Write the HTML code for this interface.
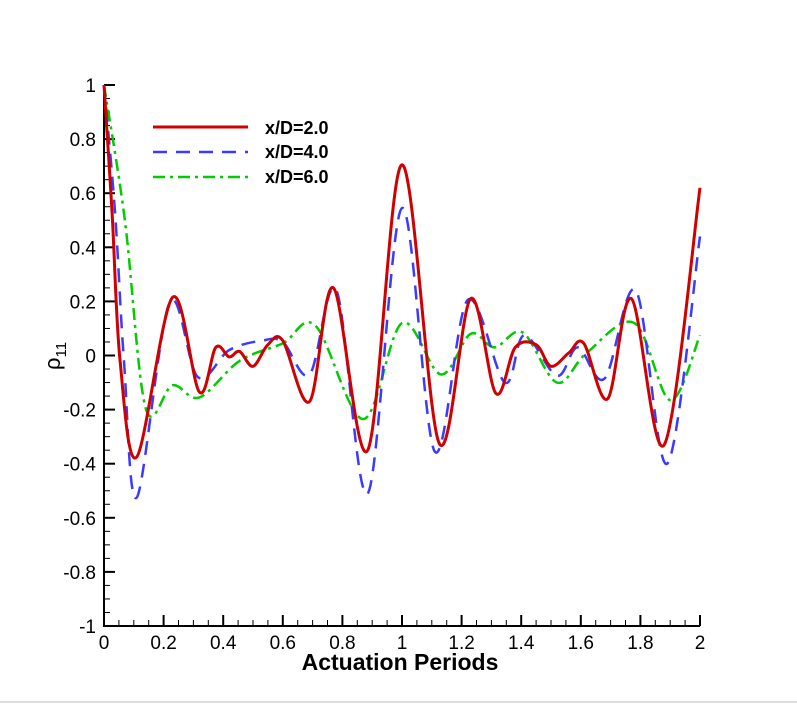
<!DOCTYPE html>
<html><head><meta charset="utf-8"><style>
body{margin:0;background:#fff}
svg{display:block;font-family:"Liberation Sans",sans-serif}
</style></head><body>
<svg id="chart" width="797" height="704">
<rect x="0" y="0" width="797" height="704" fill="#fff"/>
<line x1="0" y1="702" x2="797" y2="702" stroke="#bbb" stroke-width="1"/>
<g id="axes"></g>
<g id="series"></g>
<text x="400" y="670" text-anchor="middle" font-size="23" font-weight="bold">Actuation Periods</text>
<text transform="translate(60,356) rotate(-90)" text-anchor="middle" font-size="22">ρ<tspan font-size="15" dy="6">11</tspan></text>
<g>
<line x1="153" y1="127" x2="248" y2="127" stroke="#d00000" stroke-width="3"/>
<text x="265" y="134" font-size="18" font-weight="bold">x/D=2.0</text>
<line x1="153" y1="152" x2="248" y2="152" stroke="#3b3bff" stroke-width="2.5" stroke-dasharray="14,9"/>
<text x="265" y="158" font-size="18" font-weight="bold">x/D=4.0</text>
<line x1="153" y1="177" x2="248" y2="177" stroke="#00cc00" stroke-width="2.5" stroke-dasharray="12,5,3,5"/>
<text x="265" y="183" font-size="18" font-weight="bold">x/D=6.0</text>
</g>
</svg>
<script>
const xTicks=[0,0.2,0.4,0.6,0.8,1,1.2,1.4,1.6,1.8,2];
const xTickLabels=["0","0.2","0.4","0.6","0.8","1","1.2","1.4","1.6","1.8","2"];
const yTicks=[-1,-0.8,-0.6,-0.4,-0.2,0,0.2,0.4,0.6,0.8,1];
const yTickLabels=["-1","-0.8","-0.6","-0.4","-0.2","0","0.2","0.4","0.6","0.8","1"];
const redX=[0,0.027,0.054,0.11,0.23,0.32,0.375,0.42,0.455,0.5,0.55,0.6,0.69,0.77,0.885,1.0,1.125,1.23,1.315,1.38,1.45,1.5,1.56,1.61,1.69,1.77,1.88,2.0];
const redY=[1.0,0.53,-0.02,-0.375,0.215,-0.135,0.03,-0.005,0.015,-0.04,0.04,0.055,-0.17,0.25,-0.35,0.705,-0.325,0.21,-0.14,0.03,0.04,-0.04,0.01,0.045,-0.16,0.21,-0.33,0.62];
const blueX=[0,0.037,0.067,0.11,0.22,0.315,0.42,0.53,0.6,0.69,0.78,0.885,1.0,1.11,1.22,1.345,1.41,1.52,1.59,1.68,1.785,1.89,2.0];
const blueY=[1.0,0.53,-0.02,-0.525,0.195,-0.08,0.02,0.055,0.05,-0.07,0.24,-0.51,0.545,-0.355,0.205,-0.1,0.075,-0.075,0.03,-0.085,0.24,-0.4,0.44];
const greenX=[0,0.07,0.14,0.23,0.32,0.455,0.6,0.71,0.87,1.0,1.13,1.23,1.31,1.405,1.52,1.62,1.78,1.9,2.0];
const greenY=[1.0,0.5,-0.195,-0.11,-0.155,-0.02,0.045,0.11,-0.235,0.12,-0.07,0.08,0.03,0.085,-0.1,0.01,0.12,-0.165,0.075];
const X0=104,X1=700,Y0=626,Y1=85;
function sx(v){return X0+(v/2)*(X1-X0);}
function sy(v){return Y0-(v+1)/2*(Y0-Y1);}
const NS="http://www.w3.org/2000/svg";
const axes=document.getElementById('axes');
function mk(tag,attrs,parent){const e=document.createElementNS(NS,tag);for(const k in attrs)e.setAttribute(k,attrs[k]);parent.appendChild(e);return e;}
let e=mk('line',{x1:X0,y1:Y1,x2:X0,y2:Y0+1,stroke:'#000','stroke-width':2},axes);


e=mk('line',{x1:X0-1,y1:Y0,x2:X1,y2:Y0,stroke:'#000','stroke-width':2},axes);


for(let i=0;i<=40;i++){const v=i*0.05;const major=i%4===0;
 const t=mk('line',{x1:sx(v),y1:Y0,x2:sx(v),y2:Y0-(major?11:6),stroke:'#000','stroke-width':major?2:1},axes);
 
 }
for(let i=0;i<=40;i++){const v=-1+i*0.05;const major=i%4===0;
 const t=mk('line',{x1:X0,y1:sy(v),x2:X0+(major?11:6),y2:sy(v),stroke:'#000','stroke-width':major?2:1},axes);
 
 }
xTicks.forEach((v,i)=>{const t=mk('text',{x:sx(v),y:Y0+23,'text-anchor':'middle','font-size':19},axes);t.textContent=xTickLabels[i];
 
 });
yTicks.forEach((v,i)=>{const t=mk('text',{x:X0-8,y:sy(v)+7,'text-anchor':'end','font-size':19},axes);t.textContent=yTickLabels[i];
 
 });
function pathFor(xs,ys){
 const p=xs.map((x,i)=>[sx(x),sy(ys[i])]);
 let d='M'+p[0][0]+','+p[0][1];
 for(let i=0;i<p.length-1;i++){
  const p0=p[Math.max(0,i-1)],p1=p[i],p2=p[i+1],p3=p[Math.min(p.length-1,i+2)];
  const c1x=p1[0]+(p2[0]-p0[0])/6,c1y=p1[1]+(p2[1]-p0[1])/6;
  const c2x=p2[0]-(p3[0]-p1[0])/6,c2y=p2[1]-(p3[1]-p1[1])/6;
  d+=' C'+c1x+','+c1y+' '+c2x+','+c2y+' '+p2[0]+','+p2[1];
 }
 return d;}
const sg=document.getElementById('series');
let s=mk('path',{d:pathFor(greenX,greenY),fill:'none',stroke:'#00cc00','stroke-width':2.5,'stroke-dasharray':'12,5,3,5'},sg);


s=mk('path',{d:pathFor(blueX,blueY),fill:'none',stroke:'#3b3bff','stroke-width':2.5,'stroke-dasharray':'14,9'},sg);


s=mk('path',{d:pathFor(redX,redY),fill:'none',stroke:'#d00000','stroke-width':3},sg);


</script>
</body></html>
